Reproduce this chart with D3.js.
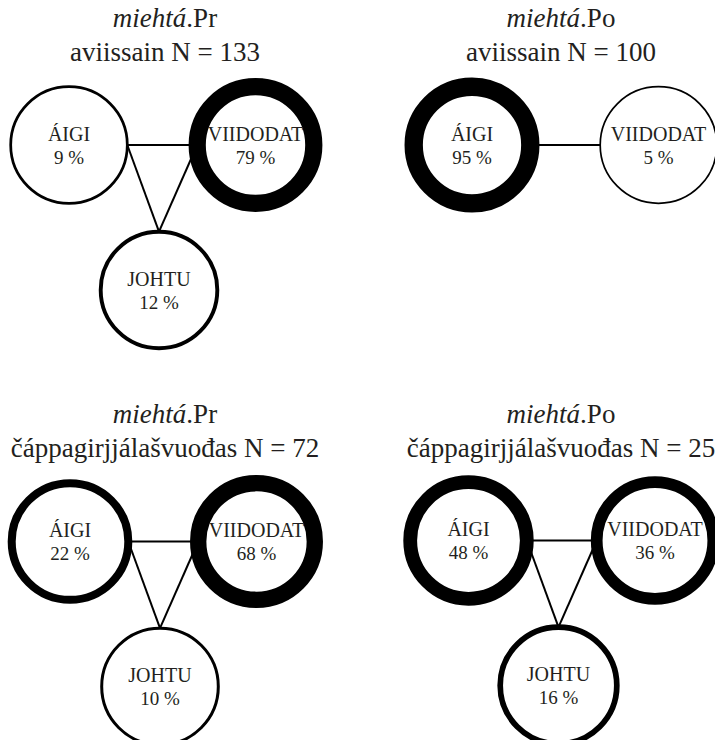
<!DOCTYPE html>
<html>
<head>
<meta charset="utf-8">
<script src="https://cdn.jsdelivr.net/npm/d3@7"></script>
<style>
  html, body { margin: 0; padding: 0; background: #ffffff; }
  svg { display: block; }
</style>
</head>
<body>
<svg id="chart" width="715" height="740"></svg>
<script>
// ---- data ----
const verbs = ["miehtá", "miehtá", "miehtá", "miehtá"];
const verbSuffixes = [".Pr", ".Po", ".Pr", ".Po"];
const genres = ["aviissain", "aviissain", "čáppagirjjálašvuođas", "čáppagirjjálašvuođas"];
const nValues = [133, 100, 72, 25];
const categories = ["ÁIGI", "VIIDODAT", "JOHTU"];
const aigiPct = [9, 95, 22, 48];
const viidodatPct = [79, 5, 68, 36];
const johtuPct = [12, null, 10, 16];

// ---- layout ----
const ink = "#231f20";
const serif = "'Liberation Serif', 'DejaVu Serif', serif";
const R = 58.3;
const panelOrigins = [[69, 145], [472, 145], [70, 541.5], [468.5, 540.5]];
const titleCenters = [165, 561, 165, 561];
const titleBase = [27, 27, 423, 423];
const catOffsets = [[0, 0], [186.5, 0], [90, 145]];

const strokeScale = d3.scaleLinear()
  .domain([5, 10, 20, 40, 70, 100])
  .range([1.7, 3, 7.5, 12.8, 16.6, 18.7])
  .clamp(true);

const svg = d3.select("#chart");

const panelData = verbs.map((v, i) => {
  const vals = [aigiPct[i], viidodatPct[i], johtuPct[i]];
  const [ox, oy] = panelOrigins[i];
  const nodes = categories.map((c, k) => ({
    cat: c, pct: vals[k], k,
    cx: ox + catOffsets[k][0], cy: oy + catOffsets[k][1]
  })).filter(d => d.pct != null);
  return { i, verb: v, suffix: verbSuffixes[i], genre: genres[i], n: nValues[i], nodes };
});

function anchor(node) {
  // connection points: ÁIGI right, VIIDODAT left, JOHTU top
  if (node.k === 0) return [node.cx + R, node.cy];
  if (node.k === 1) return [node.cx - R, node.cy];
  return [node.cx, node.cy - R];
}

const panels = svg.selectAll("g.panel").data(panelData).join("g").attr("class", "panel");

panels.each(function(p) {
  const g = d3.select(this);
  const t1 = g.append("text")
    .attr("x", titleCenters[p.i]).attr("y", titleBase[p.i])
    .attr("text-anchor", "middle")
    .attr("font-family", serif)
    .attr("font-size", 27).attr("fill", ink);
  t1.append("tspan").attr("font-style", "italic").text(p.verb);
  t1.append("tspan").text(p.suffix);
  g.append("text")
    .attr("x", titleCenters[p.i]).attr("y", titleBase[p.i] + 33.5)
    .attr("text-anchor", "middle")
    .attr("font-family", serif)
    .attr("font-size", 27).attr("fill", ink)
    .text(p.genre + " N = " + p.n);

  const links = [];
  for (let a = 0; a < p.nodes.length; a++)
    for (let b = a + 1; b < p.nodes.length; b++)
      links.push([p.nodes[a], p.nodes[b]]);
  g.selectAll("line.link").data(links).join("line")
    .attr("class", "link")
    .attr("x1", d => anchor(d[0])[0]).attr("y1", d => anchor(d[0])[1])
    .attr("x2", d => anchor(d[1])[0]).attr("y2", d => anchor(d[1])[1])
    .attr("stroke", "#000").attr("stroke-width", 2);

  const ng = g.selectAll("g.node").data(p.nodes).join("g").attr("class", "node")
    .attr("transform", d => `translate(${d.cx},${d.cy})`);
  ng.append("circle")
    .attr("r", R)
    .attr("fill", "#fff")
    .attr("stroke", "#000")
    .attr("stroke-width", d => strokeScale(d.pct));
  ng.append("text")
    .attr("y", -4.5)
    .attr("text-anchor", "middle")
    .attr("font-family", serif)
    .attr("font-size", 20).attr("fill", ink)
    .text(d => d.cat);
  ng.append("text")
    .attr("y", 18.5)
    .attr("text-anchor", "middle")
    .attr("font-family", serif)
    .attr("font-size", 19).attr("fill", ink)
    .text(d => d.pct + " %");
});
</script>
</body>
</html>
